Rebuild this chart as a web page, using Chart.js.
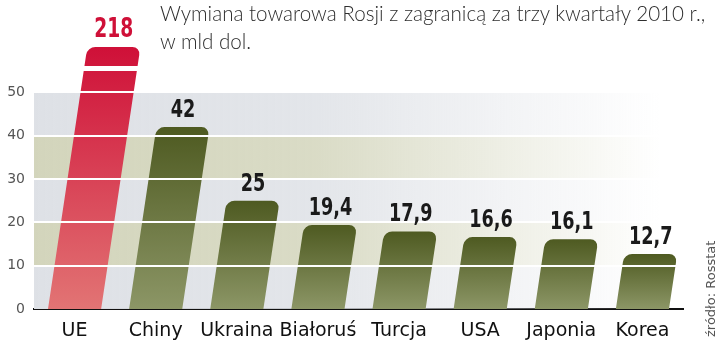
<!DOCTYPE html>
<html>
<head>
<meta charset="utf-8">
<script src="https://cdn.jsdelivr.net/npm/chart.js@4"></script>
<style>
  html, body { margin: 0; padding: 0; background: #fff; }
  #wrap { position: relative; width: 720px; height: 343px; overflow: hidden; }
  #title {
    position: absolute; left: 160px; top: -1px;
    font: 300 20.6px Lato, "DejaVu Sans", sans-serif;
    color: #2e2e2e; line-height: 28px; white-space: nowrap;
  }
  #source {
    position: absolute; left: 703px; top: 337px;
    transform-origin: 0 0; transform: rotate(-90deg);
    font: 13px "DejaVu Sans", sans-serif; color: #555; white-space: nowrap;
  }
</style>
</head>
<body>
<div id="wrap">
  <canvas id="chart" width="720" height="343"></canvas>
  <div id="title">Wymiana towarowa Rosji z zagranicą za trzy kwartały 2010 r.,<br>w mld dol.</div>
  <div id="source">źródło: Rosstat</div>
</div>
<script>
const categories = ["UE", "Chiny", "Ukraina", "Białoruś", "Turcja", "USA", "Japonia", "Korea"];
const values = [218, 42, 25, 19.4, 17.9, 16.6, 16.1, 12.7];
const yTicks = [0, 10, 20, 30, 40, 50];

const SKEW = 0.15; // bars lean to the right

// alternating grey / khaki bands fading out to the right
const bandsPlugin = {
    id: "bands",
    beforeDatasetsDraw(chart) {
        const { ctx, chartArea: a, scales: { y } } = chart;
        ctx.save();
        for (let i = 0; i < yTicks.length - 1; i++) {
            const top = y.getPixelForValue(yTicks[i + 1]);
            const bottom = y.getPixelForValue(yTicks[i]);
            const rgb = i % 2 ? "211,213,188" : "222,225,230";
            const g = ctx.createLinearGradient(a.left, 0, 660, 0);
            g.addColorStop(0, `rgba(${rgb},1)`);
            g.addColorStop(0.45, `rgba(${rgb},0.85)`);
            g.addColorStop(1, `rgba(${rgb},0)`);
            ctx.fillStyle = g;
            ctx.fillRect(a.left, top, a.right - a.left, bottom - top);
        }
        ctx.restore();
    },
};

const barsPlugin = {
    id: "slantedBars",
    afterDatasetsDraw(chart) {
        const { ctx, chartArea: a, scales: { y } } = chart;
        const meta = chart.getDatasetMeta(0);
        const tops = [];

        meta.data.forEach((bar, i) => {
            const { x, y: yv, base, width } = bar.getProps(["x", "y", "base", "width"], true);
            const clipped = yv < a.top;
            const top = Math.max(yv, a.top);
            const h = base - top;
            const g = ctx.createLinearGradient(0, top, 0, base);
            if (i === 0) {
                g.addColorStop(0, "#cf1038");
                g.addColorStop(1, "#e27474");
            } else {
                g.addColorStop(0, "#4e5a21");
                g.addColorStop(1, "#8c9666");
            }
            ctx.save();
            ctx.transform(1, 0, -SKEW, 1, SKEW * base, 0);
            ctx.fillStyle = g;
            ctx.beginPath();
            ctx.roundRect(x - width / 2, top, width, h, [8, 8, 0, 0]);
            ctx.fill();
            if (clipped) {
                // break mark on the off-scale bar
                ctx.fillStyle = "#fff";
                ctx.fillRect(x - width / 2 - 2, top + 19, width + 4, 5);
            }
            ctx.restore();
            tops.push({ x: x + h * SKEW, y: top });
        });

        // white grid lines on top of everything
        ctx.save();
        ctx.strokeStyle = "#fff";
        ctx.lineWidth = 2;
        yTicks.slice(1).forEach(v => {
            const py = Math.round(y.getPixelForValue(v));
            ctx.beginPath();
            ctx.moveTo(a.left, py);
            ctx.lineTo(a.right, py);
            ctx.stroke();
        });
        ctx.restore();

        // value labels, squeezed horizontally
        ctx.save();
        ctx.textAlign = "center";
        ctx.textBaseline = "alphabetic";
        tops.forEach((t, i) => {
            ctx.save();
            ctx.translate(t.x, t.y - 10);
            ctx.scale(0.77, 1);
            ctx.font = i === 0
                ? "bold 27px 'DejaVu Sans Condensed', sans-serif"
                : "bold 25.5px 'DejaVu Sans Condensed', sans-serif";
            ctx.fillStyle = i === 0 ? "#cf1038" : "#1a1a1a";
            ctx.fillText(String(values[i]).replace(".", ","), 0, 0);
            ctx.restore();
        });
        ctx.restore();
    },
};

new Chart(document.getElementById("chart"), {
    type: "bar",
    data: {
        labels: categories,
        datasets: [{
            data: values,
            backgroundColor: "rgba(0,0,0,0)",
            barPercentage: 0.655,
            categoryPercentage: 1,
        }],
    },
    options: {
        responsive: false,
        animation: false,
        layout: { padding: { top: 47, right: 37, left: 0, bottom: 0 } },
        plugins: { legend: { display: false }, tooltip: { enabled: false } },
        scales: {
            x: {
                grid: { display: false },
                border: { display: true, color: "#111", width: 2 },
                ticks: { color: "#111", font: { family: "DejaVu Sans", size: 19 }, padding: 3, maxRotation: 0, autoSkip: false },
                afterFit(s) { s.height = 34; },
            },
            y: {
                min: 0,
                max: 60.5,
                grid: { display: false, drawTicks: false },
                border: { display: false },
                ticks: {
                    stepSize: 10,
                    color: "#555",
                    font: { family: "DejaVu Sans", size: 14 },
                    padding: 9,
                    callback: v => (yTicks.includes(v) ? v : ""),
                },
                afterFit(s) { s.width = 34; },
            },
        },
    },
    plugins: [bandsPlugin, barsPlugin],
});
</script>
</body>
</html>
